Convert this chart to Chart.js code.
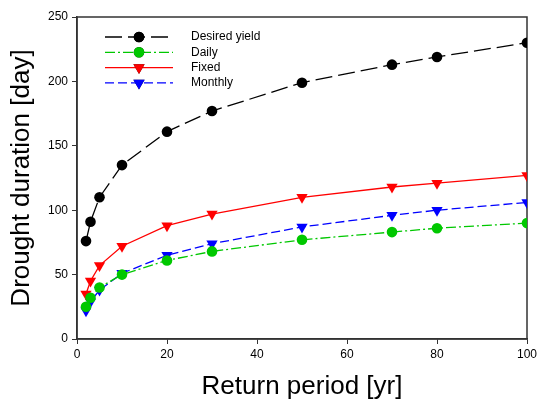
<!DOCTYPE html>
<html>
<head>
<meta charset="utf-8">
<script src="https://cdn.jsdelivr.net/npm/chart.js@4"></script>
<style>
  html, body { margin: 0; padding: 0; background: #fff; }
  #wrap { width: 537px; height: 406px; }
</style>
</head>
<body>
<div id="wrap"><canvas id="c" width="537" height="406"></canvas></div>
<script>
const returnPeriod = [2, 3, 5, 10, 20, 30, 50, 70, 80, 100];
const desiredYield = [76, 91, 110, 135, 161, 177, 199, 213, 219, 230];
const daily = [25, 32, 40, 50, 61, 68, 77, 83, 86, 90];
const fixed = [35, 45, 57, 72, 88, 97, 110, 118, 121, 127];
const monthly = [22, 29, 38, 51, 65, 74, 87, 96, 100, 106];
const xTicks = [0, 20, 40, 60, 80, 100];
const yTicks = [0, 50, 100, 150, 200, 250];

const FONT = "'Liberation Sans', Arial, sans-serif";

function pts(ys) {
  return returnPeriod.map((x, i) => ({ x: x, y: ys[i] }));
}

function series(label, ys, color, dash, shape) {
  const r = shape === 'triangle' ? 6.5 : 5.3;
  return {
    label: label,
    data: pts(ys),
    borderColor: color,
    backgroundColor: color,
    borderWidth: 1.3,
    borderDash: dash,
    pointStyle: shape,
    pointRotation: shape === 'triangle' ? 180 : 0,
    pointRadius: r,
    pointHoverRadius: r,
    pointBorderWidth: 0,
    tension: 0
  };
}

// legend drawn like the original: line sample with marker in the middle
const innerLegend = {
  id: 'innerLegend',
  afterDraw(chart) {
    const ctx = chart.ctx;
    const x0 = 105, x1 = 173, xm = 139, tx = 191;
    let y = 37;
    chart.data.datasets.forEach(ds => {
      ctx.save();
      ctx.strokeStyle = ds.borderColor;
      ctx.lineWidth = ds.borderWidth;
      ctx.setLineDash(ds.borderDash || []);
      ctx.beginPath();
      ctx.moveTo(x0, y);
      ctx.lineTo(x1, y);
      ctx.stroke();
      ctx.setLineDash([]);
      Chart.helpers.drawPoint(ctx, {
        pointStyle: ds.pointStyle,
        rotation: ds.pointRotation,
        radius: ds.pointRadius,
        borderWidth: 0
      }, xm, y);
      ctx.fillStyle = ds.borderColor;
      ctx.fill();
      ctx.fillStyle = '#000';
      ctx.font = '12px ' + FONT;
      ctx.textBaseline = 'middle';
      ctx.fillText(ds.label, tx, y);
      ctx.restore();
      y += 15.3;
    });
  }
};

// box around plot area
const frame = {
  id: 'frame',
  beforeDatasetsDraw(chart) {
    const a = chart.chartArea;
    const ctx = chart.ctx;
    ctx.save();
    ctx.strokeStyle = '#333';
    ctx.lineWidth = 1.5;
    ctx.strokeRect(a.left, a.top, a.right - a.left, a.bottom - a.top);
    ctx.restore();
  }
};

new Chart(document.getElementById('c'), {
  type: 'line',
  data: {
    datasets: [
      series('Desired yield', desiredYield, '#000000', [17, 6], 'circle'),
      series('Daily', daily, '#00c800', [10, 3, 2, 3], 'circle'),
      series('Fixed', fixed, '#ff0000', [], 'triangle'),
      series('Monthly', monthly, '#0000ff', [9, 4], 'triangle')
    ]
  },
  options: {
    responsive: false,
    animation: false,
    layout: { padding: { top: 17, right: 0, left: 2, bottom: 0 } },
    plugins: { legend: { display: false }, tooltip: { enabled: false } },
    scales: {
      x: {
        type: 'linear',
        min: 0,
        max: 100,
        afterBuildTicks: s => { s.ticks = xTicks.map(v => ({ value: v })); },
        afterFit: s => { s.height = 67; s.paddingRight = 10; },
        grid: { drawOnChartArea: false, tickLength: 5, color: '#333', tickWidth: 1 },
        border: { color: '#333', width: 1.5 },
        ticks: { color: '#000', font: { family: FONT, size: 12 }, padding: 3, maxRotation: 0 },
        title: { display: true, text: 'Return period [yr]', color: '#000', font: { family: FONT, size: 26 }, padding: { top: 0, bottom: 4 } }
      },
      y: {
        min: 0,
        max: 250,
        afterBuildTicks: s => { s.ticks = yTicks.map(v => ({ value: v })); },
        afterFit: s => { s.width = 75; },
        grid: { drawOnChartArea: false, tickLength: 5, color: '#333', tickWidth: 1 },
        border: { color: '#333', width: 1.5 },
        ticks: { color: '#000', font: { family: FONT, size: 12 }, padding: 4 },
        title: { display: true, text: 'Drought duration [day]', color: '#000', font: { family: FONT, size: 26 }, padding: { top: 4, bottom: 0 } }
      }
    }
  },
  plugins: [frame, innerLegend]
});
</script>
</body>
</html>
